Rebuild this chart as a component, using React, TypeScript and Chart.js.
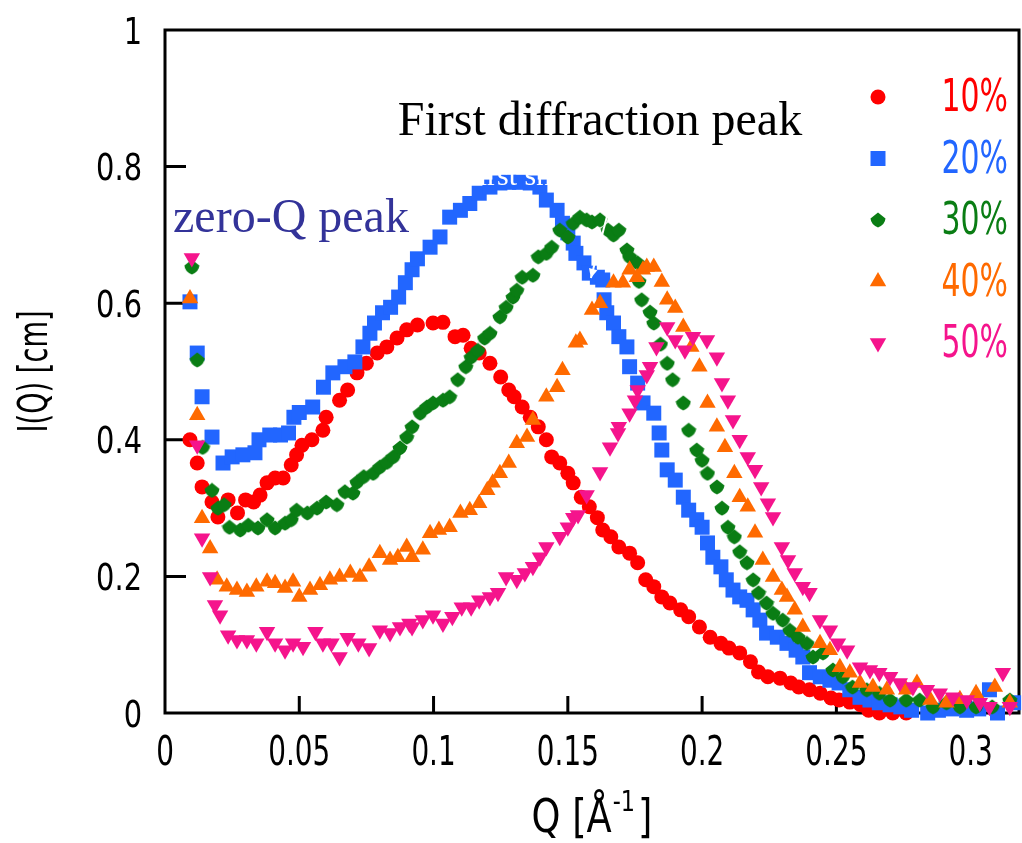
import React, { useEffect, useRef } from 'react';
import { Chart, registerables } from 'chart.js';
import { drawPoint } from 'chart.js/helpers';

Chart.register(...registerables);

const SANS = "'DejaVu Sans', 'Liberation Sans', sans-serif";
const SERIF = "'Liberation Serif', 'DejaVu Serif', serif";

const seriesLabels = ['10%', '20%', '30%', '40%', '50%'];
const seriesColors = ['#ff0000', '#2266ff', '#0a7d14', '#ff6a00', '#f5148c'];

const xTickValues = [0, 0.05, 0.1, 0.15, 0.2, 0.25, 0.3];
const xTickLabels = ['0', '0.05', '0.1', '0.15', '0.2', '0.25', '0.3'];
const yTickValues = [0, 0.2, 0.4, 0.6, 0.8, 1];
const yTickLabels = ['0', '0.2', '0.4', '0.6', '0.8', '1'];

const xTitle = { main: 'Q [Å', sup: '-1', tail: ']' };
const yTitle = 'I(Q) [cm]';

// scattering intensity I(Q) [cm] as [Q, I] pairs
const conc10: [number, number][] = [
  [0.0093, 0.40], [0.012, 0.366], [0.0138, 0.331], [0.0175, 0.309], [0.0197, 0.287], [0.0235, 0.312],
  [0.027, 0.293], [0.030, 0.312], [0.033, 0.309], [0.0354, 0.319], [0.038, 0.337], [0.041, 0.344],
  [0.044, 0.344], [0.047, 0.363], [0.049, 0.378], [0.051, 0.392], [0.0547, 0.40], [0.0588, 0.414],
  [0.060, 0.433], [0.065, 0.458], [0.068, 0.473], [0.0715, 0.498], [0.075, 0.512], [0.079, 0.527],
  [0.0826, 0.536], [0.0864, 0.549], [0.090, 0.561], [0.094, 0.568], [0.0998, 0.571], [0.1035, 0.572],
  [0.108, 0.551], [0.111, 0.553], [0.114, 0.534], [0.117, 0.527], [0.121, 0.512], [0.125, 0.492],
  [0.128, 0.473], [0.130, 0.463], [0.133, 0.448], [0.136, 0.433], [0.139, 0.419], [0.142, 0.40],
  [0.144, 0.375], [0.147, 0.366], [0.150, 0.351], [0.152, 0.337], [0.155, 0.316], [0.158, 0.302],
  [0.161, 0.286], [0.163, 0.268], [0.166, 0.258], [0.169, 0.243], [0.173, 0.234], [0.176, 0.22],
  [0.179, 0.195], [0.182, 0.185], [0.185, 0.170], [0.188, 0.161], [0.192, 0.151], [0.195, 0.141],
  [0.199, 0.126], [0.203, 0.111], [0.207, 0.102], [0.210, 0.095], [0.214, 0.088], [0.218, 0.075],
  [0.221, 0.06], [0.2245, 0.053], [0.229, 0.051], [0.233, 0.044], [0.236, 0.038], [0.240, 0.034],
  [0.244, 0.029], [0.248, 0.022], [0.251, 0.019], [0.255, 0.016], [0.259, 0.012], [0.262, 0.004],
  [0.266, 0.0], [0.271, 0.0], [0.276, 0.0],
];

const conc20: [number, number][] = [
  [0.0093, 0.602], [0.012, 0.527], [0.0138, 0.463], [0.0175, 0.404], [0.0216, 0.366], [0.025, 0.375],
  [0.029, 0.378], [0.0335, 0.381], [0.035, 0.40], [0.039, 0.407], [0.043, 0.407], [0.046, 0.41],
  [0.048, 0.433], [0.050, 0.44], [0.055, 0.448], [0.059, 0.477], [0.0625, 0.498], [0.067, 0.507],
  [0.0707, 0.514], [0.0737, 0.536], [0.0763, 0.556], [0.078, 0.571], [0.081, 0.586], [0.084, 0.594],
  [0.087, 0.609], [0.0895, 0.63], [0.092, 0.649], [0.094, 0.665], [0.0987, 0.682], [0.1024, 0.697],
  [0.106, 0.726], [0.110, 0.736], [0.1135, 0.746], [0.117, 0.761], [0.121, 0.770], [0.1247, 0.776],
  [0.128, 0.777], [0.132, 0.777], [0.136, 0.776], [0.1396, 0.770], [0.142, 0.751], [0.146, 0.736],
  [0.148, 0.717], [0.150, 0.703], [0.152, 0.688], [0.153, 0.673], [0.156, 0.659], [0.158, 0.644],
  [0.161, 0.638], [0.163, 0.634], [0.1635, 0.605], [0.1645, 0.586], [0.167, 0.571], [0.169, 0.551],
  [0.172, 0.536], [0.173, 0.507], [0.176, 0.483], [0.178, 0.454], [0.182, 0.439], [0.184, 0.41],
  [0.185, 0.385], [0.187, 0.356], [0.190, 0.341], [0.193, 0.316], [0.195, 0.297], [0.198, 0.283],
  [0.200, 0.272], [0.202, 0.249], [0.204, 0.228], [0.207, 0.214], [0.209, 0.195], [0.2115, 0.180],
  [0.214, 0.170], [0.2167, 0.165], [0.219, 0.151], [0.2215, 0.136], [0.224, 0.117], [0.228, 0.111],
  [0.2316, 0.102], [0.235, 0.092], [0.2375, 0.082], [0.240, 0.059], [0.244, 0.053], [0.2476, 0.048],
  [0.251, 0.044], [0.255, 0.034], [0.2588, 0.023], [0.2625, 0.019], [0.266, 0.015], [0.270, 0.012],
  [0.274, 0.009], [0.278, 0.004], [0.284, 0.0], [0.288, 0.004], [0.293, 0.006], [0.2985, 0.004],
  [0.303, 0.006], [0.307, 0.034], [0.310, 0.0], [0.316, 0.015],
];

const conc30: [number, number][] = [
  [0.010, 0.653], [0.012, 0.517], [0.014, 0.389], [0.0175, 0.326], [0.0197, 0.30], [0.022, 0.305],
  [0.024, 0.272], [0.028, 0.268], [0.031, 0.275], [0.0346, 0.271], [0.038, 0.283], [0.041, 0.271],
  [0.0447, 0.278], [0.047, 0.283], [0.049, 0.297], [0.053, 0.293], [0.0566, 0.30], [0.060, 0.309],
  [0.064, 0.305], [0.067, 0.324], [0.070, 0.322], [0.0715, 0.338], [0.074, 0.346], [0.0775, 0.351],
  [0.080, 0.36], [0.0826, 0.367], [0.085, 0.375], [0.0875, 0.388], [0.090, 0.404], [0.092, 0.419],
  [0.095, 0.439], [0.0975, 0.448], [0.0998, 0.454], [0.1035, 0.458], [0.106, 0.463], [0.109, 0.488],
  [0.112, 0.507], [0.114, 0.521], [0.1165, 0.531], [0.119, 0.549], [0.121, 0.556], [0.1247, 0.58],
  [0.127, 0.594], [0.1296, 0.609], [0.131, 0.619], [0.133, 0.638], [0.137, 0.641], [0.139, 0.668],
  [0.142, 0.673], [0.144, 0.682], [0.147, 0.707], [0.150, 0.697], [0.152, 0.717], [0.1545, 0.726],
  [0.157, 0.722], [0.159, 0.719], [0.162, 0.722], [0.165, 0.707], [0.167, 0.70], [0.169, 0.707],
  [0.172, 0.678], [0.173, 0.668], [0.176, 0.659], [0.1765, 0.632], [0.1775, 0.605], [0.1806, 0.587],
  [0.182, 0.571], [0.1845, 0.54], [0.187, 0.512], [0.189, 0.488], [0.193, 0.454], [0.195, 0.414],
  [0.198, 0.385], [0.200, 0.370], [0.202, 0.351], [0.2055, 0.331], [0.2074, 0.30], [0.2096, 0.272],
  [0.212, 0.258], [0.214, 0.236], [0.2167, 0.22], [0.219, 0.195], [0.221, 0.176], [0.224, 0.161],
  [0.2264, 0.146], [0.230, 0.136], [0.2327, 0.121], [0.2357, 0.111], [0.239, 0.102], [0.2413, 0.082],
  [0.245, 0.088], [0.2487, 0.063], [0.2524, 0.053], [0.256, 0.038], [0.2613, 0.034], [0.266, 0.029],
  [0.270, 0.019], [0.276, 0.019], [0.281, 0.019], [0.286, 0.009], [0.291, 0.015], [0.296, 0.009],
  [0.302, 0.009], [0.308, 0.009], [0.3146, 0.019],
];

const conc40: [number, number][] = [
  [0.0093, 0.607], [0.012, 0.436], [0.0138, 0.285], [0.0168, 0.241], [0.0194, 0.195], [0.023, 0.185],
  [0.0268, 0.18], [0.0305, 0.177], [0.034, 0.185], [0.038, 0.192], [0.041, 0.19], [0.0447, 0.183],
  [0.0477, 0.192], [0.050, 0.17], [0.054, 0.18], [0.0577, 0.187], [0.0614, 0.195], [0.065, 0.199],
  [0.069, 0.205], [0.0726, 0.199], [0.076, 0.214], [0.080, 0.234], [0.0838, 0.224], [0.0867, 0.228],
  [0.090, 0.243], [0.092, 0.228], [0.096, 0.239], [0.0987, 0.263], [0.102, 0.268], [0.106, 0.272],
  [0.110, 0.293], [0.1135, 0.297], [0.117, 0.307], [0.120, 0.326], [0.122, 0.337], [0.1247, 0.351],
  [0.128, 0.366], [0.131, 0.395], [0.1348, 0.404], [0.137, 0.429], [0.142, 0.463], [0.146, 0.477],
  [0.148, 0.502], [0.153, 0.542], [0.1545, 0.546], [0.159, 0.59], [0.162, 0.60], [0.167, 0.63],
  [0.1705, 0.63], [0.173, 0.649], [0.1757, 0.638], [0.178, 0.649], [0.1794, 0.653], [0.182, 0.653],
  [0.185, 0.631], [0.187, 0.605], [0.190, 0.593], [0.193, 0.565], [0.196, 0.536], [0.199, 0.507],
  [0.202, 0.454], [0.2055, 0.419], [0.2085, 0.389], [0.212, 0.351], [0.214, 0.316], [0.217, 0.302],
  [0.2197, 0.264], [0.2226, 0.224], [0.2264, 0.199], [0.2297, 0.18], [0.2316, 0.170], [0.2345, 0.151],
  [0.2375, 0.126], [0.2439, 0.102], [0.2476, 0.092], [0.2513, 0.067], [0.255, 0.059], [0.2588, 0.044],
  [0.2636, 0.038], [0.2688, 0.034], [0.276, 0.034], [0.280, 0.044], [0.285, 0.019], [0.291, 0.015],
  [0.296, 0.02], [0.302, 0.029], [0.309, 0.038], [0.3146, 0.015],
];

const conc50: [number, number][] = [
  [0.010, 0.666], [0.012, 0.392], [0.0138, 0.256], [0.0168, 0.199], [0.0186, 0.158], [0.0205, 0.143],
  [0.0235, 0.114], [0.0268, 0.107], [0.0305, 0.107], [0.034, 0.102], [0.038, 0.119], [0.041, 0.102],
  [0.0447, 0.092], [0.0477, 0.102], [0.0514, 0.097], [0.056, 0.119], [0.0588, 0.102], [0.062, 0.102],
  [0.065, 0.082], [0.068, 0.11], [0.072, 0.102], [0.076, 0.095], [0.080, 0.121], [0.0838, 0.117],
  [0.0875, 0.126], [0.091, 0.131], [0.092, 0.126], [0.096, 0.136], [0.0998, 0.143], [0.1035, 0.131],
  [0.107, 0.141], [0.1105, 0.155], [0.114, 0.155], [0.117, 0.165], [0.121, 0.17], [0.124, 0.176],
  [0.127, 0.199], [0.131, 0.195], [0.134, 0.205], [0.137, 0.214], [0.1396, 0.228], [0.142, 0.243],
  [0.147, 0.258], [0.150, 0.272], [0.152, 0.286], [0.1538, 0.29], [0.157, 0.319], [0.162, 0.353],
  [0.1657, 0.389], [0.1687, 0.41], [0.169, 0.419], [0.173, 0.439], [0.175, 0.458], [0.176, 0.473],
  [0.1794, 0.495], [0.1806, 0.507], [0.183, 0.536], [0.187, 0.565], [0.190, 0.546], [0.1936, 0.531],
  [0.1966, 0.551], [0.2018, 0.546], [0.2055, 0.521], [0.2074, 0.483], [0.2096, 0.458], [0.2115, 0.429],
  [0.214, 0.40], [0.217, 0.375], [0.2197, 0.356], [0.222, 0.331], [0.2245, 0.307], [0.2264, 0.287],
  [0.2297, 0.243], [0.232, 0.224], [0.2345, 0.205], [0.2375, 0.185], [0.240, 0.176], [0.2439, 0.136],
  [0.2476, 0.121], [0.2506, 0.102], [0.254, 0.092], [0.2588, 0.067], [0.2625, 0.063], [0.266, 0.059],
  [0.270, 0.053], [0.2736, 0.044], [0.2785, 0.038], [0.2837, 0.034], [0.2885, 0.029], [0.2934, 0.023],
  [0.2986, 0.019], [0.3034, 0.015], [0.307, 0.009], [0.312, 0.059], [0.3146, 0.009],
];

const seriesData = [conc10, conc20, conc30, conc40, conc50];

// text callouts placed in data coordinates [Q, I]
const callouts = [
  { text: 'First diffraction peak', q: 0.0867, i: 0.846, color: '#000000', size: 48 },
  { text: 'zero-Q peak', q: 0.003, i: 0.704, color: '#333399', size: 48 },
];
// white callout text and arrow, only seen where they cross the markers
const whiteCallout = { text: 'First sharp diffraction peak', q: 0.1106, i: 0.773, size: 30 };
const whiteArrow = { q1: 0.1657, i1: 0.744, q2: 0.1586, i2: 0.637 };

function makeRoundDiamond(color: string): HTMLCanvasElement {
  const c = document.createElement('canvas');
  c.width = 16;
  c.height = 16;
  const g = c.getContext('2d')!;
  g.fillStyle = color;
  g.beginPath();
  g.moveTo(8, 0.5);
  g.lineTo(15.5, 6.5);
  g.quadraticCurveTo(15, 12.5, 8, 15.5);
  g.quadraticCurveTo(1, 12.5, 0.5, 6.5);
  g.closePath();
  g.fill();
  return c;
}

// narrow sans lettering: horizontal squeeze around the anchor point
function narrowText(
  ctx: CanvasRenderingContext2D,
  text: string,
  x: number,
  y: number,
  size: number,
  align: CanvasTextAlign,
  squeeze: number
) {
  ctx.save();
  ctx.translate(x, y);
  ctx.scale(squeeze, 1);
  ctx.font = `${size}px ${SANS}`;
  ctx.textAlign = align;
  ctx.textBaseline = 'alphabetic';
  ctx.fillText(text, 0, 0);
  ctx.restore();
}

const axesPlugin = {
  id: 'axesFrame',
  beforeDatasetsDraw(chart: any) {
    const { ctx, chartArea: a, scales } = chart;
    ctx.save();
    ctx.strokeStyle = '#000';
    ctx.lineWidth = 3;
    ctx.strokeRect(a.left, a.top, a.right - a.left, a.bottom - a.top);

    // inward tick marks
    ctx.beginPath();
    scales.x.ticks.forEach((t: any) => {
      if (t.value === 0) return;
      const px = scales.x.getPixelForValue(t.value);
      ctx.moveTo(px, a.bottom);
      ctx.lineTo(px, a.bottom - 17);
    });
    scales.y.ticks.forEach((t: any) => {
      if (t.value === 0 || t.value === 1) return;
      const py = scales.y.getPixelForValue(t.value);
      ctx.moveTo(a.left, py);
      ctx.lineTo(a.left + 21, py);
    });
    ctx.stroke();

    // tick labels
    ctx.fillStyle = '#000';
    scales.x.ticks.forEach((t: any, i: number) => {
      narrowText(ctx, xTickLabels[i], scales.x.getPixelForValue(t.value), a.bottom + 52, 41, 'center', 0.68);
    });
    scales.y.ticks.forEach((t: any, i: number) => {
      narrowText(ctx, yTickLabels[i], a.left - 23, scales.y.getPixelForValue(t.value) + 13.5, 37, 'right', 0.78);
    });

    // axis titles
    const sq = 0.8;
    const cx = (a.left + a.right) / 2;
    const base = a.bottom + 119;
    ctx.save();
    ctx.font = `46px ${SANS}`;
    const wMain = ctx.measureText(xTitle.main).width * sq;
    const wTail = ctx.measureText(xTitle.tail).width * sq;
    ctx.font = `28px ${SANS}`;
    const wSup = ctx.measureText(xTitle.sup).width * sq;
    ctx.restore();
    const x0 = cx - (wMain + wSup + wTail + 4) / 2;
    narrowText(ctx, xTitle.main, x0, base, 46, 'left', sq);
    narrowText(ctx, xTitle.sup, x0 + wMain + 1, base - 21, 28, 'left', sq);
    narrowText(ctx, xTitle.tail, x0 + wMain + wSup + 4, base, 46, 'left', sq);

    ctx.save();
    ctx.translate(a.left - 118, (a.top + a.bottom) / 2);
    ctx.rotate(-Math.PI / 2);
    narrowText(ctx, yTitle, 0, 0, 40, 'center', 0.68);
    ctx.restore();

    ctx.restore();
  },
};

const overlayPlugin = {
  id: 'overlay',
  afterDatasetsDraw(chart: any) {
    const { ctx, chartArea: a, scales } = chart;
    ctx.save();

    // white callout
    ctx.fillStyle = '#ffffff';
    ctx.font = `${whiteCallout.size}px ${SERIF}`;
    ctx.textAlign = 'left';
    ctx.textBaseline = 'alphabetic';
    ctx.fillText(whiteCallout.text, scales.x.getPixelForValue(whiteCallout.q), scales.y.getPixelForValue(whiteCallout.i));
    const ax1 = scales.x.getPixelForValue(whiteArrow.q1);
    const ay1 = scales.y.getPixelForValue(whiteArrow.i1);
    const ax2 = scales.x.getPixelForValue(whiteArrow.q2);
    const ay2 = scales.y.getPixelForValue(whiteArrow.i2);
    ctx.strokeStyle = '#ffffff';
    ctx.lineWidth = 2;
    ctx.beginPath();
    ctx.moveTo(ax1, ay1);
    ctx.lineTo(ax2, ay2);
    ctx.stroke();
    const ang = Math.atan2(ay2 - ay1, ax2 - ax1);
    ctx.beginPath();
    ctx.moveTo(ax2, ay2);
    ctx.lineTo(ax2 - 10 * Math.cos(ang - 0.45), ay2 - 10 * Math.sin(ang - 0.45));
    ctx.lineTo(ax2 - 10 * Math.cos(ang + 0.45), ay2 - 10 * Math.sin(ang + 0.45));
    ctx.closePath();
    ctx.fillStyle = '#ffffff';
    ctx.fill();

    // text callouts
    for (const c of callouts) {
      ctx.fillStyle = c.color;
      ctx.font = `${c.size}px ${SERIF}`;
      ctx.fillText(c.text, scales.x.getPixelForValue(c.q), scales.y.getPixelForValue(c.i));
    }

    // legend
    chart.data.datasets.forEach((ds: any, idx: number) => {
      const y = a.top + 67 + idx * 61.5;
      ctx.fillStyle = ds.pointBackgroundColor;
      drawPoint(
        ctx,
        { pointStyle: ds.pointStyle, rotation: ds.pointRotation || 0, radius: ds.pointRadius, borderWidth: 0 },
        a.right - 141,
        y
      );
      ctx.fillStyle = ds.pointBackgroundColor;
      narrowText(ctx, ds.label, a.right - 11, y + 14, 44, 'right', 0.68);
    });
    ctx.restore();
  },
};

export default function App() {
  const canvasRef = useRef<HTMLCanvasElement | null>(null);

  useEffect(() => {
    if (!canvasRef.current) return;
    const styles: any[] = [
      { pointStyle: 'circle', pointRadius: 7.5, pointRotation: 0 },
      { pointStyle: 'rect', pointRadius: 10.6, pointRotation: 0 },
      { pointStyle: makeRoundDiamond(seriesColors[2]), pointRadius: 8, pointRotation: 0 },
      { pointStyle: 'triangle', pointRadius: 9.5, pointRotation: 0 },
      { pointStyle: 'triangle', pointRadius: 9.5, pointRotation: 180 },
    ];
    const datasets = seriesData.map((pts, idx) => ({
      label: seriesLabels[idx],
      data: pts.map(([q, v]) => ({ x: q, y: v })),
      showLine: false,
      pointBackgroundColor: seriesColors[idx],
      pointBorderColor: seriesColors[idx],
      pointBorderWidth: 0,
      pointHoverRadius: styles[idx].pointRadius,
      order: seriesData.length - idx,
      clip: false as const,
      ...styles[idx],
    }));

    const chart = new Chart(canvasRef.current, {
      type: 'scatter',
      data: { datasets },
      plugins: [axesPlugin, overlayPlugin],
      options: {
        animation: false,
        responsive: false,
        events: [],
        layout: { autoPadding: false, padding: { top: 30, right: 3, left: 0, bottom: 0 } },
        plugins: { legend: { display: false }, tooltip: { enabled: false } },
        scales: {
          x: {
            type: 'linear',
            min: 0,
            max: 0.318,
            afterFit: (s: any) => {
              s.height = 130;
              s.paddingLeft = 0;
              s.paddingRight = 0;
            },
            afterBuildTicks: (s: any) => { s.ticks = xTickValues.map((v) => ({ value: v })); },
            grid: { display: false, drawTicks: false },
            border: { display: false },
            ticks: { display: false },
            title: { display: false },
          },
          y: {
            type: 'linear',
            min: 0,
            max: 1,
            afterFit: (s: any) => {
              s.width = 165;
              s.paddingTop = 0;
              s.paddingBottom = 0;
            },
            afterBuildTicks: (s: any) => { s.ticks = yTickValues.map((v) => ({ value: v })); },
            grid: { display: false, drawTicks: false },
            border: { display: false },
            ticks: { display: false },
            title: { display: false },
          },
        },
      },
    });
    return () => chart.destroy();
  }, []);

  return (
    <div style={{ position: 'fixed', left: 0, top: 0, width: 1022, height: 843, background: '#fff' }}>
      <canvas ref={canvasRef} width={1022} height={843} style={{ display: 'block', width: 1022, height: 843 }} />
    </div>
  );
}
